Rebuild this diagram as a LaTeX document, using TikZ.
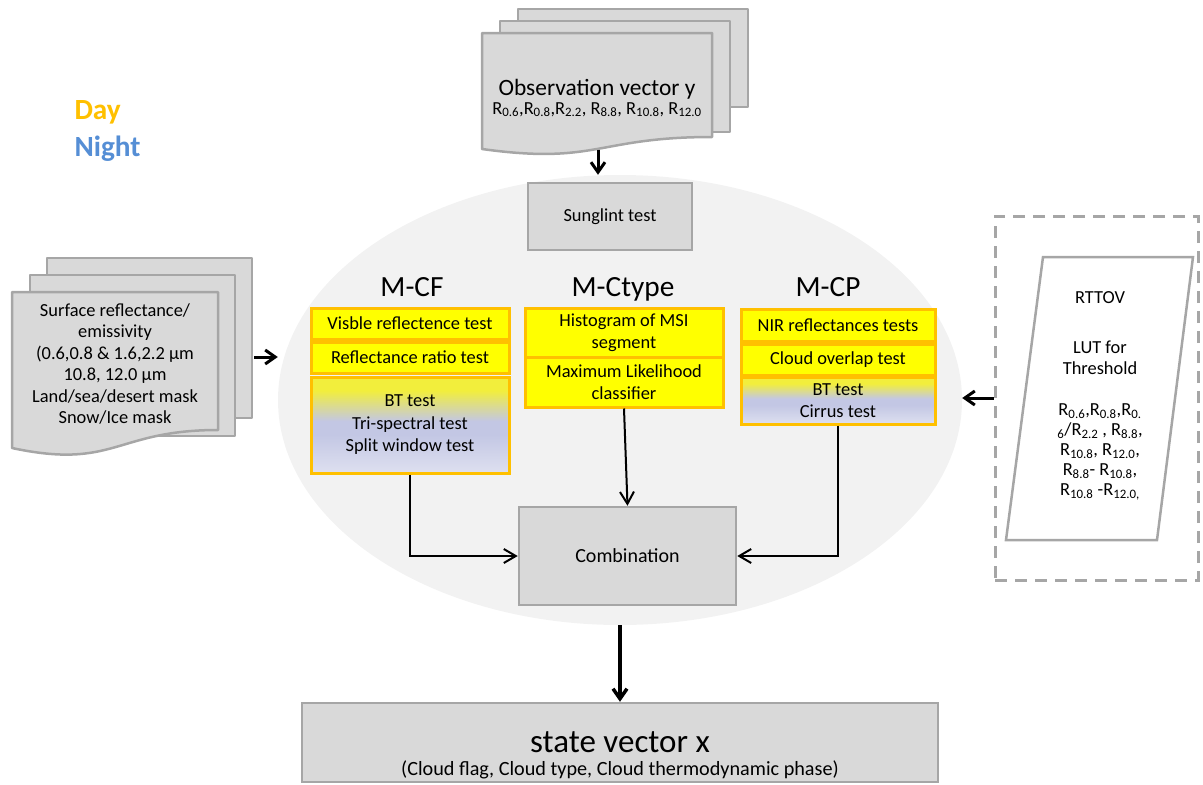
\documentclass[tikz,border=0pt]{standalone}
\usepackage{fontspec}
\setmainfont{Carlito}
\usetikzlibrary{shapes.geometric,arrows.meta,calc}

\definecolor{boxgray}{HTML}{D9D9D9}
\definecolor{edgegray}{HTML}{A6A6A6}
\definecolor{ovalgray}{HTML}{F2F2F2}
\definecolor{testyellow}{HTML}{FFFF00}
\definecolor{testorange}{HTML}{FFC000}
\definecolor{dayyellow}{HTML}{F2EE3C}
\definecolor{nightmid}{HTML}{C3C7E4}
\definecolor{nightlow}{HTML}{DEE0F0}
\definecolor{daytext}{HTML}{FFC000}
\definecolor{nighttext}{HTML}{558ED5}

\pgfdeclareverticalshading{daynight}{100bp}{color(0bp)=(nightlow); color(25bp)=(nightlow); color(45bp)=(nightmid); color(52bp)=(nightmid); color(68bp)=(dayyellow); color(75bp)=(dayyellow); color(100bp)=(dayyellow)}

\newcommand{\boxfont}{\fontsize{18.4}{21.5}\selectfont}
\newcommand{\bandfont}{\fontsize{18.4}{20}\selectfont}
\newcommand{\headfont}{\fontsize{29.3}{34}\selectfont}
\newcommand{\obsfont}{\fontsize{23.4}{28}\selectfont}
\newcommand{\combfont}{\fontsize{20}{24}\selectfont}
\newcommand{\statefont}{\fontsize{33}{38}\selectfont}
\newcommand{\notefont}{\fontsize{20.2}{24}\selectfont}
\newcommand{\Rs}[1]{R\textsubscript{#1}}

\begin{document}
\begin{tikzpicture}[x=1pt, y=-1pt,
    graybox/.style={draw=edgegray, fill=boxgray, line width=2.5pt, inner sep=0pt, font=\boxfont},
    testbox/.style={draw=testorange, fill=testyellow, line width=3pt, inner sep=0pt, align=center, font=\boxfont},
    mixbox/.style={testbox, shading=daynight},
    head/.style={anchor=base, font=\headfont},
    page/.style={draw=edgegray, fill=boxgray, line width=2.5pt, line join=round},
    bigarrow/.style={-{Straight Barb[length=10pt,width=14pt]}, line width=3pt},
    linkarrow/.style={-{Straight Barb[length=12pt,width=14pt]}, line width=2pt}]
\useasboundingbox (0,0) rectangle (1203,785);

% the grey oval holding the modules
\node[ellipse, fill=ovalgray, minimum width=684pt, minimum height=450pt, inner sep=0pt] (oval) at (620,400) {};

% legend
\node[anchor=base west, font=\headfont\bfseries, text=daytext] (day) at (71,119) {Day};
\node[anchor=base west, font=\headfont\bfseries, text=nighttext] (night) at (71,156) {Night};

% observation vector (stack of pages)
\draw[page] (518,9) rectangle (748,107);
\draw[page] (500,21) rectangle (730,132);
\draw[page] (482,33) -- (712,33) -- (712,137) .. controls (597,137) and (597,165) .. (482,149) -- cycle;
\node[font=\obsfont, anchor=base] (obs) at (597,95) {Observation vector y};
\node[font=\boxfont, anchor=base] (obsbands) at (597,114) {\Rs{0.6},\Rs{0.8},\Rs{2.2}, \Rs{8.8}, \Rs{10.8}, \Rs{12.0}};
\coordinate (obsbot) at (598,150);

% surface data (stack of pages)
\draw[page] (47,258) rectangle (252,418);
\draw[page] (30,275) rectangle (235,436);
\draw[page] (12,292) -- (218,292) -- (218,430) .. controls (115,430) and (115,470) .. (12,448) -- cycle;
\node[font=\boxfont, align=center] (surf) at (115,364) {Surface reflectance/\\emissivity\\(0.6,0.8 \& 1.6,2.2 µm\\10.8, 12.0 µm\\Land/sea/desert mask\\Snow/Ice mask};
\coordinate (surfout) at (254,357);

% RTTOV look-up table
\node[draw=edgegray, dashed, dash pattern=on 12pt off 8pt, line width=3pt, minimum width=203pt, minimum height=364pt] (lutframe) at (1096.5,398) {};
\draw[draw=edgegray, fill=white, line width=2.5pt] (1043,257) -- (1193,257) -- (1157,540) -- (1006,540) -- cycle;
\node[font=\boxfont] (rttov) at (1100,298) {RTTOV};
\node[font=\boxfont, align=center] (lutfor) at (1100,358) {LUT for\\Threshold};
\node[font=\bandfont, align=center] (lutbands) at (1100,452) {\Rs{0.6},\Rs{0.8},R\textsubscript{0.}\\\textsubscript{6}/\Rs{2.2} , \Rs{8.8},\\\Rs{10.8}, \Rs{12.0},\\\Rs{8.8}- \Rs{10.8},\\\Rs{10.8} -\Rs{12.0,}};

% sunglint
\node[graybox, minimum width=164pt, minimum height=67pt] (sunglint) at (610,216.5) {Sunglint test};

% M-CF
\node[head] (mcf) at (412,296) {M-CF};
\node[testbox, minimum width=198pt, minimum height=31pt] (cf1) at (410,323.5) {Visble reflectence test};
\node[testbox, minimum width=198pt, minimum height=31pt] (cf2) at (410,357.5) {Reflectance ratio test};
\node[mixbox, minimum width=198pt, minimum height=96pt] (cf3) at (410,425) {BT test\\[1pt]Tri-spectral test\\[1pt]Split window test};

% M-Ctype
\node[head] (mctype) at (623,296) {M-Ctype};
\node[testbox, minimum width=198pt, minimum height=49pt] (ct1) at (624,332.5) {Histogram of MSI\\segment};
\node[testbox, minimum width=198pt, minimum height=50pt] (ct2) at (624,382) {Maximum Likelihood\\classifier};

% M-CP
\node[head] (mcp) at (828,296) {M-CP};
\node[testbox, minimum width=194pt, minimum height=32pt] (cp1) at (838,325) {NIR reflectances tests};
\node[testbox, minimum width=194pt, minimum height=31pt] (cp2) at (838,359.5) {Cloud overlap test};
\node[mixbox, minimum width=194pt, minimum height=47pt] (cp3) at (838,400.5) {BT test\\[1pt]Cirrus test};

% combination and output
\node[graybox, font=\combfont, minimum width=217pt, minimum height=98pt] (comb) at (627.5,556) {Combination};
\node[graybox, minimum width=636pt, minimum height=79pt] (state) at (620,742.5) {};
\node[font=\statefont, anchor=base] (statetitle) at (620,752) {state vector x};
\node[font=\notefont, anchor=base] (statenote) at (620,775) {(Cloud flag, Cloud type, Cloud thermodynamic phase)};

% connectors
\draw[bigarrow] (obsbot) -- (obsbot |- oval.north);
\draw[bigarrow] (surfout) -- (surfout -| oval.west);
\draw[bigarrow] (lutframe.west) -- (lutframe.west -| oval.east);
\draw[linkarrow] (cf3.south) |- (comb.west);
\draw[linkarrow] (ct2.south) -- (comb.north);
\draw[linkarrow] (cp3.south) |- (comb.east);
\draw[bigarrow, line width=3.5pt] (oval.south) -- (state.north);
\end{tikzpicture}
\end{document}
